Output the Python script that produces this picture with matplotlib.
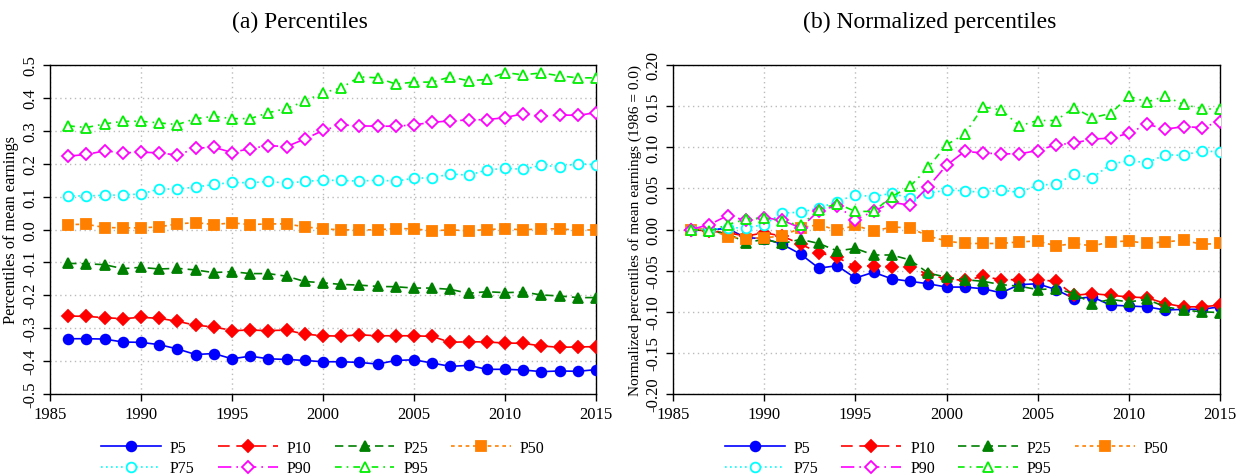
import matplotlib
matplotlib.use("Agg")
import matplotlib.pyplot as plt
import numpy as np

years = list(range(1986, 2016))

# Panel (a): percentiles of mean earnings
p5 = [-0.332, -0.332, -0.333, -0.342, -0.343, -0.350, -0.363, -0.380, -0.377, -0.393,
      -0.385, -0.393, -0.395, -0.398, -0.402, -0.402, -0.404, -0.409, -0.398, -0.396,
      -0.406, -0.416, -0.413, -0.425, -0.425, -0.427, -0.432, -0.430, -0.431, -0.426]
p10 = [-0.263, -0.264, -0.268, -0.271, -0.267, -0.270, -0.279, -0.291, -0.296, -0.307,
       -0.306, -0.307, -0.306, -0.318, -0.323, -0.324, -0.320, -0.323, -0.323, -0.323,
       -0.325, -0.343, -0.341, -0.342, -0.345, -0.346, -0.354, -0.358, -0.357, -0.356]
p25 = [-0.103, -0.104, -0.107, -0.119, -0.115, -0.120, -0.118, -0.123, -0.131, -0.128,
       -0.134, -0.134, -0.142, -0.158, -0.162, -0.167, -0.169, -0.173, -0.174, -0.178,
       -0.178, -0.182, -0.194, -0.189, -0.192, -0.190, -0.199, -0.202, -0.207, -0.207]
p50 = [0.015, 0.016, 0.006, 0.005, 0.005, 0.008, 0.017, 0.021, 0.015, 0.020,
       0.015, 0.017, 0.017, 0.008, 0.002, -0.001, -0.001, -0.001, 0.003, 0.002,
       -0.004, -0.001, -0.004, 0.000, 0.002, -0.001, 0.002, 0.002, -0.002, -0.001]
p75 = [0.102, 0.102, 0.104, 0.105, 0.108, 0.123, 0.123, 0.129, 0.137, 0.143,
       0.142, 0.146, 0.141, 0.146, 0.150, 0.149, 0.147, 0.150, 0.147, 0.156,
       0.157, 0.169, 0.165, 0.181, 0.186, 0.183, 0.195, 0.191, 0.200, 0.197]
p90 = [0.223, 0.228, 0.239, 0.233, 0.235, 0.233, 0.226, 0.247, 0.250, 0.234,
       0.246, 0.255, 0.252, 0.275, 0.301, 0.318, 0.315, 0.314, 0.314, 0.318,
       0.326, 0.330, 0.333, 0.334, 0.340, 0.352, 0.344, 0.348, 0.347, 0.355]
p95 = [0.315, 0.310, 0.321, 0.329, 0.329, 0.324, 0.319, 0.337, 0.344, 0.337,
       0.337, 0.355, 0.368, 0.390, 0.416, 0.430, 0.464, 0.461, 0.442, 0.448,
       0.448, 0.464, 0.452, 0.456, 0.477, 0.470, 0.476, 0.467, 0.461, 0.461]

# Panel (b): normalized percentiles (1986 = 0.0)
n5 = [0.000, 0.000, 0.001, -0.010, -0.011, -0.018, -0.030, -0.047, -0.044, -0.059,
      -0.052, -0.060, -0.063, -0.066, -0.070, -0.070, -0.072, -0.077, -0.067, -0.066,
      -0.073, -0.084, -0.082, -0.092, -0.093, -0.094, -0.098, -0.097, -0.097, -0.094]
n10 = [0.000, -0.002, -0.004, -0.008, -0.004, -0.008, -0.018, -0.028, -0.034, -0.045,
       -0.044, -0.045, -0.045, -0.055, -0.060, -0.062, -0.057, -0.061, -0.061, -0.061,
       -0.063, -0.080, -0.078, -0.080, -0.082, -0.083, -0.090, -0.094, -0.094, -0.092]
n25 = [0.000, -0.002, -0.005, -0.016, -0.012, -0.017, -0.012, -0.017, -0.026, -0.023,
       -0.031, -0.031, -0.037, -0.053, -0.058, -0.061, -0.063, -0.067, -0.069, -0.073,
       -0.072, -0.078, -0.090, -0.085, -0.088, -0.085, -0.094, -0.098, -0.100, -0.101]
n50 = [0.000, 0.001, -0.009, -0.011, -0.010, -0.008, 0.002, 0.006, -0.001, 0.005,
       -0.002, 0.003, 0.002, -0.008, -0.014, -0.017, -0.017, -0.017, -0.015, -0.014,
       -0.020, -0.017, -0.020, -0.015, -0.014, -0.017, -0.015, -0.013, -0.018, -0.017]
n75 = [0.000, 0.000, 0.002, 0.002, 0.006, 0.020, 0.021, 0.026, 0.034, 0.042,
       0.040, 0.044, 0.038, 0.044, 0.048, 0.047, 0.045, 0.048, 0.045, 0.054,
       0.055, 0.067, 0.063, 0.079, 0.084, 0.081, 0.091, 0.090, 0.096, 0.094]
n90 = [0.000, 0.006, 0.017, 0.011, 0.0145, 0.011, 0.002, 0.023, 0.029, 0.012,
       0.022, 0.033, 0.0295, 0.052, 0.078, 0.095, 0.093, 0.092, 0.092, 0.096,
       0.103, 0.105, 0.110, 0.111, 0.117, 0.128, 0.122, 0.125, 0.124, 0.131]
n95 = [0.000, -0.002, 0.006, 0.0125, 0.0145, 0.010, 0.005, 0.024, 0.0315, 0.022,
       0.022, 0.040, 0.0525, 0.0755, 0.103, 0.116, 0.149, 0.1455, 0.126, 0.1325,
       0.1325, 0.148, 0.136, 0.141, 0.162, 0.155, 0.162, 0.152, 0.147, 0.146]

labels = ["P5", "P10", "P25", "P50", "P75", "P90", "P95"]
xticks = [1985, 1990, 1995, 2000, 2005, 2010, 2015]
yticks_a = [-0.5, -0.4, -0.3, -0.2, -0.1, 0.0, 0.1, 0.2, 0.3, 0.4, 0.5]
yticks_b = [-0.20, -0.15, -0.10, -0.05, 0.00, 0.05, 0.10, 0.15, 0.20]

styles = [
    dict(color="#0000FF", linestyle="-", marker="o", mfc="#0000FF"),
    dict(color="#FF0000", linestyle=(0, (7, 4)), marker="D", mfc="#FF0000", ms_scale=0.9),
    dict(color="#008000", linestyle=(0, (5, 3)), marker="^", mfc="#008000"),
    dict(color="#FF7F00", linestyle=(0, (2.2, 2.2)), marker="s", mfc="#FF7F00", ms_scale=0.95),
    dict(color="#00FFFF", linestyle=(0, (1, 2)), marker="o", mfc="white"),
    dict(color="#FF00FF", linestyle=(0, (8, 3, 1, 3)), marker="D", mfc="white", ms_scale=0.9),
    dict(color="#00EE00", linestyle=(0, (4, 3, 1, 3)), marker="^", mfc="white"),
]

plt.rcParams["font.family"] = ["Liberation Serif", "DejaVu Serif"]

fig = plt.figure(figsize=(12.42, 4.77), dpi=100)
axA = fig.add_axes([50 / 1242, 1 - 395 / 477, 546 / 1242, 329 / 477])
axB = fig.add_axes([673 / 1242, 1 - 395 / 477, 547 / 1242, 329 / 477])


def draw(ax, series, yticks, ylim, ylabel, fmt, ylabel_size):
    handles = []
    for vals, st, lab in zip(series, styles, labels):
        ms = 7.0 * st.get("ms_scale", 1.0)
        h, = ax.plot(years, vals, color=st["color"], linestyle=st["linestyle"],
                     linewidth=1.2, marker=st["marker"], markersize=ms,
                     markerfacecolor=st["mfc"], markeredgecolor=st["color"],
                     markeredgewidth=1.3, label=lab, zorder=3)
        handles.append(h)
    ax.set_xlim(1985, 2015)
    ax.set_ylim(*ylim)
    ax.set_xticks(xticks)
    ax.set_yticks(yticks)
    ax.set_yticklabels([fmt.format(v) for v in yticks])
    ax.grid(True, color="#BBBBBB", linestyle=(0, (1, 2.5)), linewidth=1.0)
    ax.set_axisbelow(True)
    ax.tick_params(axis="both", direction="out", length=5, width=1, labelsize=12,
                   color="black")
    ax.tick_params(axis="y", labelrotation=90)
    for lbl in ax.get_yticklabels():
        lbl.set_verticalalignment("center")
    for sp in ax.spines.values():
        sp.set_linewidth(1.0)
        sp.set_color("black")
    ax.set_ylabel(ylabel, fontsize=ylabel_size, labelpad=2)
    order = [0, 4, 1, 5, 2, 6, 3]
    ax.legend([handles[i] for i in order], [labels[i] for i in order],
              loc="upper center", bbox_to_anchor=(0.5, -0.10), ncol=4,
              frameon=False, fontsize=11.5, handlelength=3.75, handletextpad=0.55,
              columnspacing=1.45, labelspacing=0.3, borderpad=0.3)


draw(axA, [p5, p10, p25, p50, p75, p90, p95], yticks_a, (-0.5, 0.5),
     "Percentiles of mean earnings", "{:.1f}", 11.7)
draw(axB, [n5, n10, n25, n50, n75, n90, n95], yticks_b, (-0.2, 0.2),
     "Normalized percentiles of mean earnings (1986 = 0.0)", "{:.2f}", 11)

fig.text(300 / 1242, 1 - 22 / 477, "(a) Percentiles", ha="center", va="center",
         fontsize=17)
fig.text(930 / 1242, 1 - 22 / 477, "(b) Normalized percentiles", ha="center",
         va="center", fontsize=17)

fig.savefig("out.png", dpi=100)
